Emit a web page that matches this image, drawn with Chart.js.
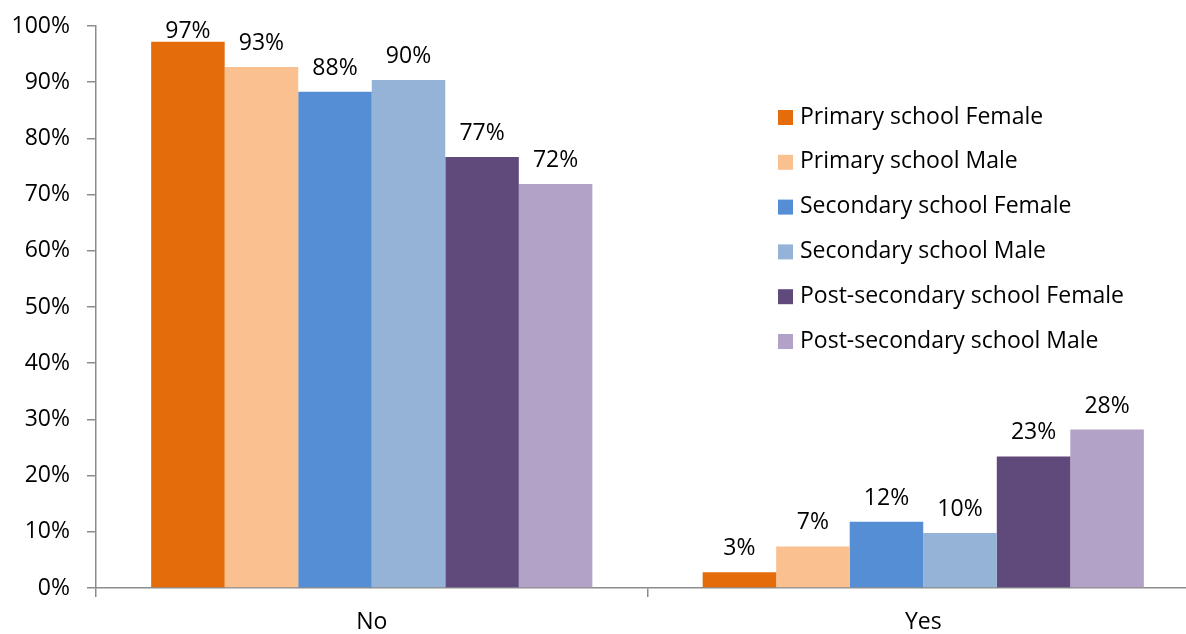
<!DOCTYPE html>
<html>
<head>
<meta charset="utf-8">
<script src="https://cdn.jsdelivr.net/npm/chart.js@4/dist/chart.umd.min.js"></script>
<style>
  html, body { margin: 0; padding: 0; background: #fff; overflow: hidden; }
  canvas { display: block; }
</style>
</head>
<body>
<canvas id="grafico" width="1200" height="634"></canvas>
<script>
const categorias = ["No", "Yes"]
const series = ["Primary school Female", "Primary school Male", "Secondary school Female", "Secondary school Male", "Post-secondary school Female", "Post-secondary school Male"]
const cores = ["#E46C0A", "#FAC090", "#558ED5", "#95B3D7", "#604A7B", "#B3A2C7"]
const primFem = [97.2, 2.8]
const primMasc = [92.7, 7.4]
const secFem = [88.3, 11.8]
const secMasc = [90.4, 9.8]
const posFem = [76.7, 23.4]
const posMasc = [71.9, 28.2]
const valores = [primFem, primMasc, secFem, secMasc, posFem, posMasc]
const yTicks = [0, 10, 20, 30, 40, 50, 60, 70, 80, 90, 100]

const fonte = "'Open Sans', Lato, sans-serif"

// rotulos em cima das barras
const rotulos = {
    id: 'rotulos',
    afterDatasetsDraw(chart) {
        const c = chart.ctx
        c.save()
        c.font = "23px " + fonte
        c.fillStyle = "#000"
        c.textAlign = "center"
        c.textBaseline = "alphabetic"
        chart.data.datasets.forEach((ds, i) => {
            chart.getDatasetMeta(i).data.forEach((bar, j) => {
                // nao deixa o texto sair do topo
                const y = Math.max(bar.y - 17, 38)
                c.fillText(Math.round(ds.data[j]) + "%", bar.x, y)
            })
        })
        c.restore()
    }
}

// legenda dentro da area do grafico
const legenda = {
    id: 'legenda',
    afterDraw(chart) {
        const c = chart.ctx
        c.save()
        c.font = "23px " + fonte
        c.textBaseline = "middle"
        chart.data.datasets.forEach((ds, i) => {
            const y = 117 + i * 44.8
            c.fillStyle = ds.backgroundColor
            c.fillRect(778, y - 7, 15, 15)
            c.fillStyle = "#000"
            c.fillText(ds.label, 800, y)
        })
        c.restore()
    }
}

new Chart(document.getElementById('grafico'), {
    type: 'bar',
    data: {
        labels: categorias,
        datasets: series.map((s, i) => ({
            label: s,
            data: valores[i],
            backgroundColor: cores[i],
            borderWidth: 0,
            categoryPercentage: 0.8,
            barPercentage: 1
        }))
    },
    options: {
        responsive: false,
        animation: false,
        layout: { padding: { top: 26, right: 1, bottom: 0, left: 0 } },
        plugins: { legend: { display: false }, tooltip: { enabled: false } },
        scales: {
            x: {
                afterFit: scale => { scale.height = 46; scale.paddingLeft = 0; scale.paddingRight = 0 },
                grid: { offset: true, drawOnChartArea: false, drawTicks: true, tickLength: 9, color: "#8c8c8c", lineWidth: 1.5 },
                border: { color: "#8c8c8c", width: 1.5 },
                ticks: { color: "#000", font: { size: 23, family: fonte, lineHeight: 1 }, padding: 14 }
            },
            y: {
                min: 0,
                max: 100,
                afterBuildTicks: scale => { scale.ticks = yTicks.map(v => ({ value: v })) },
                afterFit: scale => { scale.width = 96; scale.paddingTop = 0; scale.paddingBottom = 0 },
                grid: { drawOnChartArea: false, drawTicks: true, tickLength: 9, color: "#8c8c8c", lineWidth: 1.5 },
                border: { color: "#8c8c8c", width: 1.5 },
                ticks: { color: "#000", font: { size: 23, family: fonte, lineHeight: 1 }, padding: 17, callback: v => v + "%" }
            }
        }
    },
    plugins: [rotulos, legenda]
});
</script>
</body>
</html>
